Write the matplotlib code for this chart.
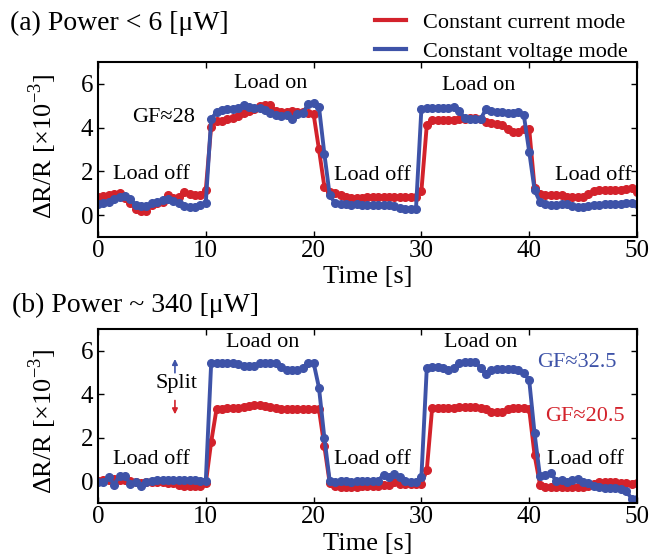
import numpy as np
import matplotlib
matplotlib.use('Agg')
import matplotlib.pyplot as plt
from matplotlib.lines import Line2D

plt.rcParams['font.family'] = ['Liberation Serif', 'DejaVu Serif']
plt.rcParams['mathtext.fontset'] = 'custom'
plt.rcParams['mathtext.rm'] = 'Liberation Serif'

RED = '#d3222b'
BLUE = '#3e53a8'

# time axis, one sample every 0.5 s
t = np.arange(0, 50.25, 0.5)

# (a) Power < 6 uW
cc_a = [0.85, 0.88, 0.92, 0.98, 1.00, 0.80, 0.55, 0.30, 0.20, 0.18,
        0.45, 0.55, 0.60, 0.90, 0.78, 0.85, 1.05, 0.95, 0.90, 0.90,
        1.15, 4.05, 4.28, 4.32, 4.38, 4.42, 4.55, 4.65, 4.75, 4.85,
        5.00, 5.02, 5.02, 4.75, 4.70, 4.72, 4.75, 4.70, 4.72, 4.68,
        4.62, 3.00, 1.30, 1.05, 1.00, 0.90, 0.85, 0.80, 0.80, 0.80,
        0.85, 0.85, 0.85, 0.85, 0.85, 0.85, 0.85, 0.85, 0.85, 0.85,
        1.10, 4.10, 4.35, 4.35, 4.35, 4.35, 4.35, 4.38, 4.40, 4.42,
        4.42, 4.40, 4.25, 4.20, 4.15, 4.12, 3.95, 3.80, 3.78, 3.95,
        3.95, 1.25, 0.95, 0.90, 0.92, 0.92, 0.90, 0.85, 0.85, 0.85,
        0.85, 0.95, 1.10, 1.15, 1.15, 1.15, 1.15, 1.15, 1.18, 1.25,
        1.05]
cv_a = [0.50, 0.55, 0.60, 0.75, 0.85, 0.88, 0.75, 0.45, 0.40, 0.40,
        0.55, 0.62, 0.70, 0.72, 0.65, 0.55, 0.40, 0.38, 0.35, 0.45,
        0.55, 4.40, 4.70, 4.82, 4.85, 4.85, 4.88, 5.05, 4.92, 4.90,
        4.90, 4.80, 4.68, 4.58, 4.55, 4.58, 4.40, 4.62, 4.65, 5.08,
        5.12, 4.95, 2.80, 0.90, 0.55, 0.50, 0.50, 0.48, 0.50, 0.48,
        0.45, 0.45, 0.45, 0.45, 0.45, 0.42, 0.32, 0.30, 0.30, 0.30,
        4.85, 4.88, 4.88, 4.88, 4.88, 4.88, 4.95, 4.75, 4.45, 4.38,
        4.38, 4.40, 4.85, 4.75, 4.72, 4.72, 4.68, 4.65, 4.70, 4.58,
        2.90, 1.15, 0.60, 0.50, 0.45, 0.45, 0.50, 0.50, 0.40, 0.35,
        0.38, 0.40, 0.45, 0.48, 0.50, 0.50, 0.50, 0.52, 0.55, 0.55,
        0.50]

# (b) Power ~ 340 uW
cc_b = [0.00, 0.05, 0.08, 0.10, 0.05, 0.05, 0.00, -0.05, -0.10, -0.05,
        -0.05, -0.05, -0.05, -0.10, -0.10, -0.15, -0.20, -0.20, -0.20, -0.20,
        -0.10, 1.80, 3.33, 3.34, 3.35, 3.36, 3.38, 3.40, 3.48, 3.52,
        3.52, 3.48, 3.40, 3.35, 3.30, 3.30, 3.30, 3.30, 3.32, 3.32,
        3.32, 3.30, 1.60, -0.10, -0.20, -0.25, -0.25, -0.25, -0.25, -0.22,
        -0.20, -0.20, -0.20, -0.18, -0.15, -0.05, -0.12, -0.12, -0.12, -0.12,
        -0.12, 0.50, 3.38, 3.38, 3.38, 3.38, 3.38, 3.40, 3.40, 3.42,
        3.40, 3.38, 3.30, 3.20, 3.18, 3.20, 3.30, 3.35, 3.35, 3.35,
        3.30, 1.20, -0.15, -0.25, -0.28, -0.28, -0.28, -0.28, -0.28, -0.25,
        -0.25, -0.20, -0.12, -0.05, -0.05, -0.05, -0.05, -0.08, -0.10, -0.12,
        -0.10]
cv_b = [-0.05, -0.05, 0.20, -0.15, 0.25, 0.25, -0.12, -0.05, -0.22, -0.05,
        0.00, 0.06, 0.06, 0.06, 0.06, 0.06, 0.06, 0.06, 0.06, 0.03,
        0.00, 5.42, 5.42, 5.42, 5.42, 5.42, 5.40, 5.30, 5.28, 5.28,
        5.42, 5.45, 5.45, 5.42, 5.25, 5.12, 5.10, 5.10, 5.20, 5.42,
        5.45, 4.30, 2.00, 0.00, -0.05, 0.00, 0.00, -0.05, 0.00, 0.00,
        0.03, 0.03, 0.03, 0.30, 0.20, 0.35, 0.18, 0.00, -0.05, -0.05,
        0.18, 5.20, 5.26, 5.26, 5.22, 5.12, 5.20, 5.45, 5.48, 5.48,
        5.48, 5.20, 4.95, 5.10, 5.14, 5.14, 5.14, 5.14, 5.10, 4.98,
        4.65, 2.20, 0.22, 0.28, 0.37, 0.03, 0.08, -0.05, 0.05, 0.10,
        -0.05, -0.10, -0.20, -0.28, -0.30, -0.32, -0.32, -0.35, -0.45, -0.80,
        -0.80]

labels = ['Constant current mode', 'Constant voltage mode']

fig = plt.figure(figsize=(6.54, 5.55), dpi=100)
ax1 = fig.add_axes([0.1498, 0.573, 0.8242, 0.3153])
ax2 = fig.add_axes([0.1498, 0.0937, 0.8242, 0.3135])

for ax, cc, cv in [(ax1, cc_a, cv_a), (ax2, cc_b, cv_b)]:
    ax.plot(t, cc, '-o', color=RED, lw=2.8, ms=5.5, mec=RED)
    ax.plot(t, cv, '-o', color=BLUE, lw=2.8, ms=5.5, mec=BLUE)
    ax.set_xlim(0, 50)
    ax.set_ylim(-1, 7)
    ax.set_xticks([0, 10, 20, 30, 40, 50])
    ax.set_yticks([0, 2, 4, 6])
    ax.tick_params(direction='in', top=True, right=True, length=4, width=1,
                   labelsize=18)
    ax.tick_params(axis='x', pad=2)
    ax.tick_params(axis='y', pad=3.5)
    for s in ax.spines.values():
        s.set_linewidth(1.5)
    ax.set_xlabel('Time [s]', fontsize=19)
    ax.set_ylabel(r'ΔR/R [×10$^{\mathregular{-3}}$]', fontsize=19)

ax1.xaxis.set_label_coords(0.5, -0.165)
ax2.xaxis.set_label_coords(0.5, -0.175)
ax1.yaxis.set_label_coords(-0.072, 0.517)
ax2.yaxis.set_label_coords(-0.072, 0.471)

kw = dict(ha='center', va='center', fontsize=16)
ax1.text(4.96, 1.84, 'Load off', **kw)
ax1.text(16.0, 6.0, 'Load on', **kw)
ax1.text(6.06, 4.46, 'GF≈28', **kw)
ax1.text(25.5, 1.8, 'Load off', **kw)
ax1.text(35.35, 5.91, 'Load on', **kw)
ax1.text(46.0, 1.8, 'Load off', **kw)

ax2.text(4.96, 1.02, 'Load off', **kw)
ax2.text(15.26, 6.4, 'Load on', **kw)
ax2.text(7.24, 4.48, 'Split', **kw)
ax2.text(25.5, 1.02, 'Load off', **kw)
ax2.text(35.5, 6.4, 'Load on', **kw)
ax2.text(44.4, 5.48, 'GF≈32.5', color=BLUE, **kw)
ax2.text(45.17, 3.0, 'GF≈20.5', color=RED, **kw)
ax2.text(45.25, 1.02, 'Load off', **kw)
ax2.annotate('', xy=(7.14, 5.75), xytext=(7.14, 4.86),
             arrowprops=dict(arrowstyle='-|>', color=BLUE, lw=1.2, mutation_scale=8))
ax2.annotate('', xy=(7.14, 2.95), xytext=(7.14, 3.84),
             arrowprops=dict(arrowstyle='-|>', color=RED, lw=1.2, mutation_scale=8))

fig.text(0.015, 0.957, '(a) Power < 6 [μW]', fontsize=20, va='center')
fig.text(0.018, 0.449, '(b) Power ~ 340 [μW]', fontsize=20, va='center')

handles = [Line2D([], [], color=RED, lw=3), Line2D([], [], color=BLUE, lw=3)]
fig.legend(handles, labels, loc='upper left', bbox_to_anchor=(0.573, 0.978),
           frameon=False, borderpad=0, borderaxespad=0, handlelength=1.4,
           handletextpad=0.75, labelspacing=0.38, fontsize=16)

fig.savefig('out.png', dpi=100)
